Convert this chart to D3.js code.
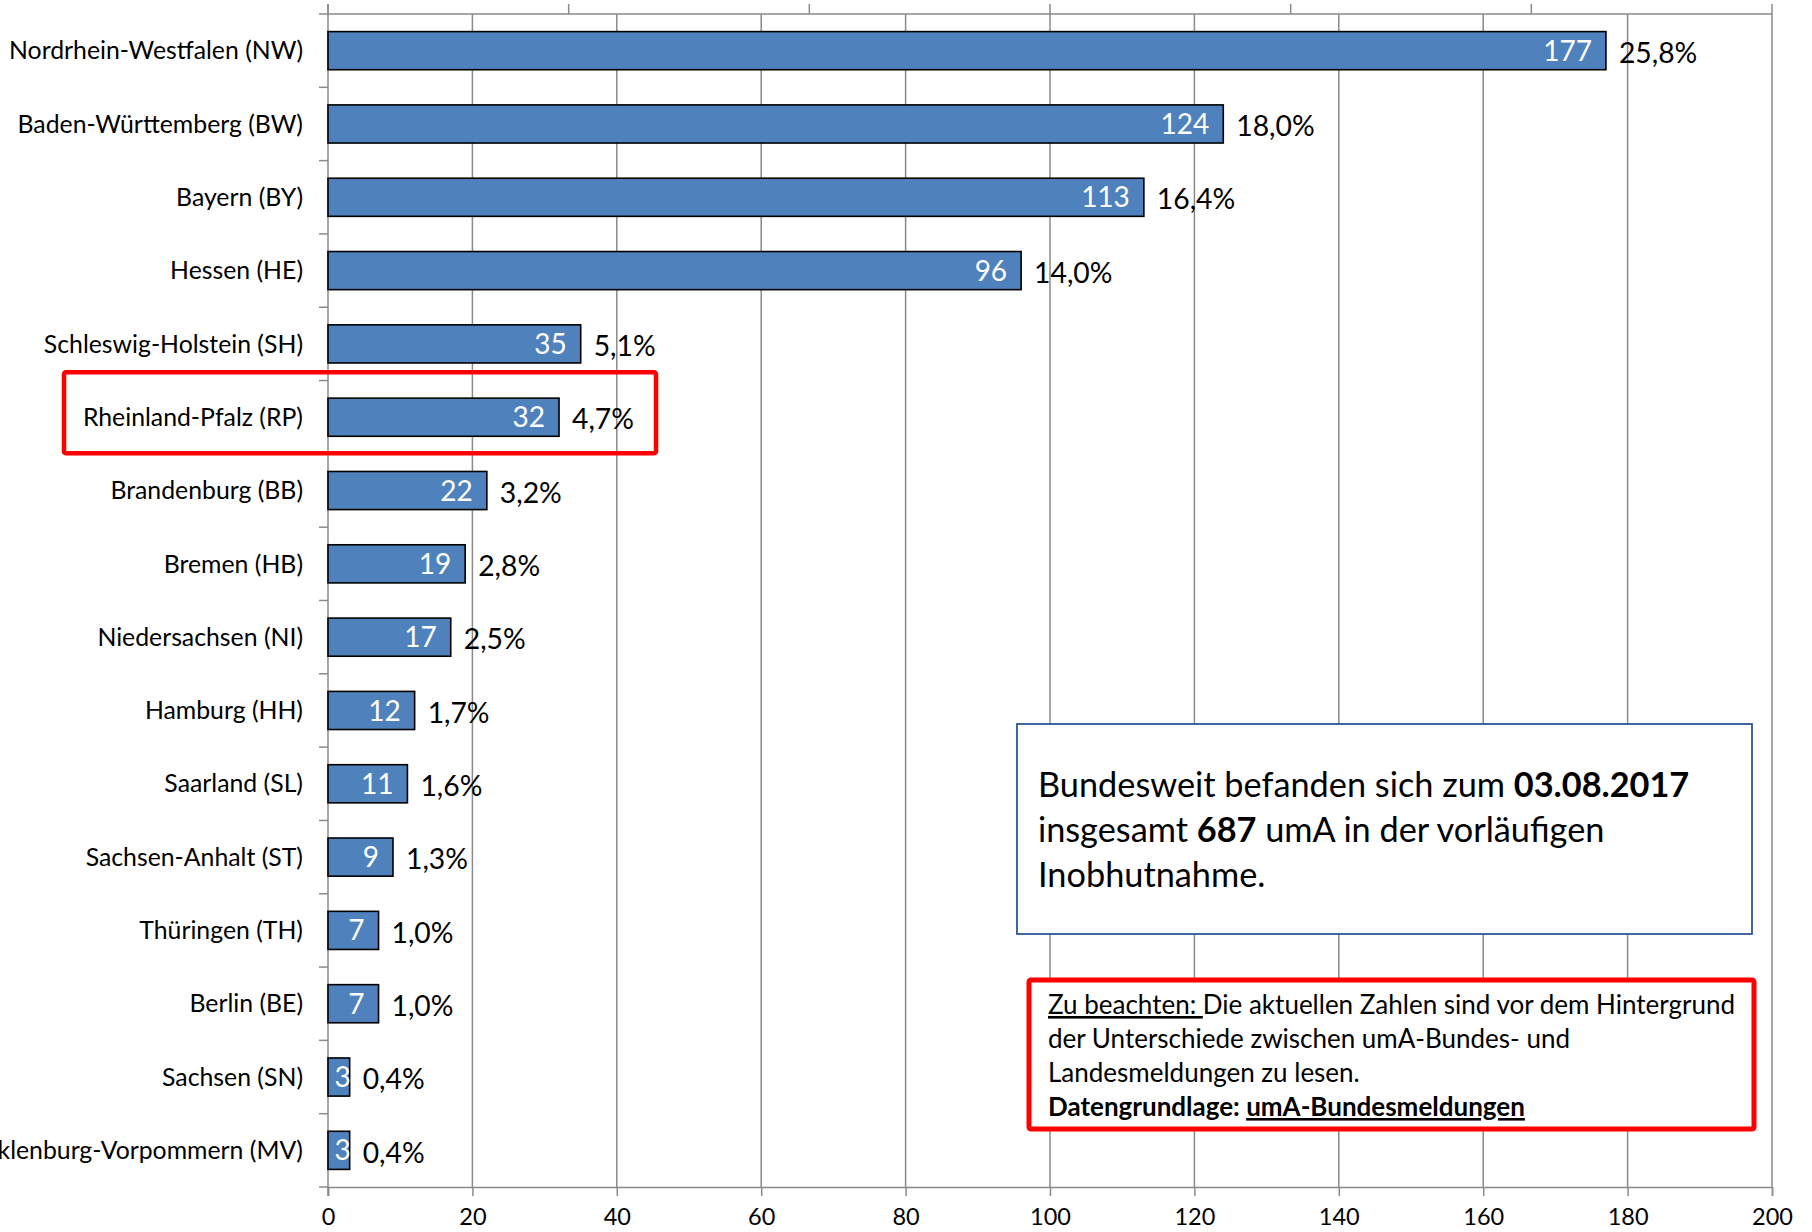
<!DOCTYPE html>
<html><head><meta charset="utf-8">
<script src="https://cdn.jsdelivr.net/npm/d3@7/dist/d3.min.js"></script>
<style>
html,body{margin:0;padding:0;background:#fff;}
svg{display:block;font-family:Lato, "Open Sans", sans-serif;}
</style></head>
<body>
<script>
const categories = ["Nordrhein-Westfalen (NW)","Baden-Württemberg (BW)","Bayern (BY)","Hessen (HE)","Schleswig-Holstein (SH)","Rheinland-Pfalz (RP)","Brandenburg (BB)","Bremen (HB)","Niedersachsen (NI)","Hamburg (HH)","Saarland (SL)","Sachsen-Anhalt (ST)","Thüringen (TH)","Berlin (BE)","Sachsen (SN)","Mecklenburg-Vorpommern (MV)"];
const values = [177,124,113,96,35,32,22,19,17,12,11,9,7,7,3,3];
const shares = ["25,8%","18,0%","16,4%","14,0%","5,1%","4,7%","3,2%","2,8%","2,5%","1,7%","1,6%","1,3%","1,0%","1,0%","0,4%","0,4%"];
const xTicks = [0,20,40,60,80,100,120,140,160,180,200];
const topTicks = [0,1,2,3,4,5,6];
const highlighted = "Rheinland-Pfalz (RP)";

(function(){
const W = 1812, H = 1232;
const pL = 328, pR = 1772, pT = 14, pB = 1187;
const gridColor = "#8a8a8a";

const svg = d3.select("body").append("svg").attr("width", W).attr("height", H);

const x = d3.scaleLinear().domain([0,200]).range([pL,pR]);
const y = d3.scaleBand().domain(categories).range([pT,pB]).paddingInner(0.48).paddingOuter(0.24);
const xTop = d3.scaleLinear().domain([0,6]).range([pL,pR]);

// gridlines
svg.append("g").selectAll("line").data(xTicks.slice(1)).join("line")
  .attr("x1", d=>x(d)).attr("x2", d=>x(d)).attr("y1", pT).attr("y2", pB)
  .attr("stroke", gridColor).attr("stroke-width", 1.5);

// top axis line + ticks
svg.append("line").attr("x1", pL).attr("x2", pR).attr("y1", pT).attr("y2", pT)
  .attr("stroke", gridColor).attr("stroke-width", 1.5);
svg.append("g").selectAll("line").data(topTicks).join("line")
  .attr("x1", d=>xTop(d)).attr("x2", d=>xTop(d)).attr("y1", pT).attr("y2", pT-10)
  .attr("stroke", gridColor).attr("stroke-width", 1.5);

// bottom axis
const xAxis = d3.axisBottom(x).tickValues(xTicks).tickSize(9).tickPadding(12).tickFormat(d3.format("d"));
const gx = svg.append("g").attr("transform", `translate(0,${pB})`).call(xAxis);
gx.select(".domain").attr("stroke", gridColor).attr("stroke-width", 1.5);
gx.selectAll(".tick line").attr("stroke", gridColor).attr("stroke-width", 1.5);
gx.selectAll(".tick text").attr("font-size", 23.5).attr("fill", "#000").attr("font-family", "Lato");

// left axis line
svg.append("line").attr("x1", pL).attr("x2", pL).attr("y1", pT-10).attr("y2", pB+9)
  .attr("stroke", gridColor).attr("stroke-width", 1.5);
// category separator ticks
const bounds = categories.map(c => y(c) - y.step()*y.paddingInner()/2);
bounds[0] = pT; bounds.push(pB);
svg.append("g").selectAll("line").data(bounds).join("line")
  .attr("x1", pL-9).attr("x2", pL).attr("y1", d=>d).attr("y2", d=>d)
  .attr("stroke", gridColor).attr("stroke-width", 1.5);

// category labels
svg.append("g").selectAll("text").data(categories).join("text")
  .attr("x", pL-25).attr("y", d=>y(d)+y.bandwidth()/2).attr("dy","0.35em")
  .attr("text-anchor","end").attr("font-size", 24.8).attr("fill","#000").text(d=>d);

const data = categories.map((c,i)=>({c, v:values[i], s:shares[i]}));

// bars
svg.append("g").selectAll("rect").data(data).join("rect")
  .attr("x", x(0)).attr("y", d=>y(d.c)).attr("width", d=>x(d.v)-x(0)).attr("height", y.bandwidth())
  .attr("fill","#4F81BD").attr("stroke","#000").attr("stroke-width",1.6);

// value labels
const vl = svg.append("g").selectAll("text").data(data).join("text")
  .attr("y", d=>y(d.c)+y.bandwidth()/2).attr("dy","0.36em")
  .attr("text-anchor","end").attr("font-size", 28).attr("fill","#fff").text(d=>d.v);
vl.each(function(d){
  const w = this.getComputedTextLength();
  const endX = Math.max(x(d.v)-14, Math.min(x(d.v)+1, x(0)+9+w));
  d3.select(this).attr("x", endX);
});

// share labels
svg.append("g").selectAll("text").data(data).join("text")
  .attr("x", d=>x(d.v)+13).attr("y", d=>y(d.c)+y.bandwidth()/2+2).attr("dy","0.36em")
  .attr("text-anchor","start").attr("font-size", 28.3).attr("fill","#000").text(d=>d.s);

// highlight box around RP
const hy = y(highlighted);
svg.append("rect").attr("x", 64).attr("y", hy-26).attr("width", 592).attr("height", y.bandwidth()+43)
  .attr("rx",2).attr("fill","none").attr("stroke","#ff0000").attr("stroke-width",4.5);

// info box
svg.append("rect").attr("x",1017).attr("y",724).attr("width",735).attr("height",210)
  .attr("fill","#fff").attr("stroke","#2f5597").attr("stroke-width",1.8);
const info = svg.append("text").attr("font-size",34.3).attr("fill","#000");
const l1 = info.append("tspan").attr("x",1038).attr("y",797);
l1.append("tspan").text("Bundesweit befanden sich zum ");
l1.append("tspan").attr("font-weight","bold").text("03.08.2017");
const l2 = info.append("tspan").attr("x",1038).attr("y",842);
l2.append("tspan").text("insgesamt ");
l2.append("tspan").attr("font-weight","bold").text("687");
l2.append("tspan").text(" umA in der vorläufigen");
info.append("tspan").attr("x",1038).attr("y",887).text("Inobhutnahme.");

// note box
svg.append("rect").attr("x",1029).attr("y",980).attr("width",725).attr("height",149)
  .attr("rx",2).attr("fill","#fff").attr("stroke","#ff0000").attr("stroke-width",5);
const note = svg.append("text").attr("font-size",26).attr("fill","#000");
const n1 = note.append("tspan").attr("x",1048).attr("y",1014);
n1.append("tspan").attr("text-decoration","underline").text("Zu beachten:\u00a0");
n1.append("tspan").text("Die aktuellen Zahlen sind vor dem Hintergrund");
note.append("tspan").attr("x",1048).attr("y",1048).text("der Unterschiede zwischen umA-Bundes- und");
note.append("tspan").attr("x",1048).attr("y",1082).text("Landesmeldungen zu lesen.");
const n4 = note.append("tspan").attr("x",1048).attr("y",1116).attr("font-weight","bold");
n4.append("tspan").text("Datengrundlage: ");
n4.append("tspan").attr("text-decoration","underline").text("umA-Bundesmeldungen");
})();
</script>
</body></html>
